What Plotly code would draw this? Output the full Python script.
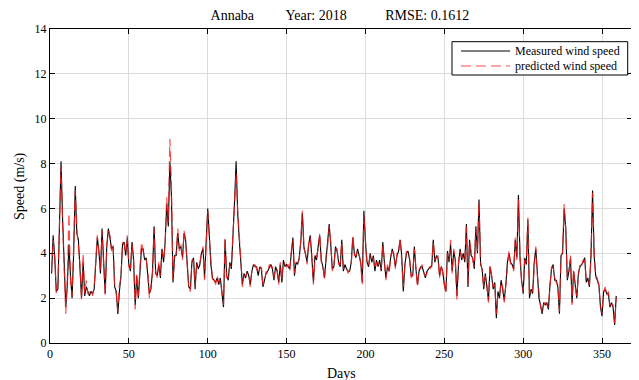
import plotly.graph_objects as go

days = list(range(1, 360))

measured = [
    3.1, 4.8, 3.8, 2.3, 2.4, 5.0, 8.1, 5.5, 3.0, 1.6,
    2.6, 4.4, 3.0, 2.0, 4.0, 7.0, 4.9, 4.6, 3.3, 2.0,
    3.6, 2.1, 2.5, 2.3, 2.1, 2.3, 2.2, 2.4, 3.8, 4.7,
    4.1, 3.1, 5.1, 3.5, 2.2, 4.3, 5.1, 4.7, 4.2, 4.3,
    2.5, 2.3, 1.3, 2.3, 3.0, 4.4, 4.5, 3.9, 4.7, 3.5,
    3.2, 4.5, 3.7, 1.7, 3.0, 2.0, 3.4, 4.2, 4.2, 3.7,
    3.8, 3.1, 2.2, 2.4, 3.2, 5.2, 3.1, 3.0, 3.5, 2.9,
    4.2, 3.6, 4.5, 6.2, 5.2, 8.1, 6.5, 2.7, 3.9, 3.9,
    4.9, 4.2, 4.3, 3.8, 4.9, 4.6, 3.4, 2.5, 2.4, 3.6,
    3.8, 2.4, 3.6, 3.3, 3.5, 4.0, 4.2, 2.9, 4.5, 6.0,
    4.8, 3.5, 2.9, 2.8, 2.7, 2.9, 2.6, 2.9, 2.2, 1.6,
    4.6, 3.0, 2.8, 3.6, 3.3, 4.6, 6.3, 8.1, 5.8, 4.6,
    3.6, 2.6, 3.1, 2.9, 3.2, 3.0, 2.6, 3.2, 3.5, 3.4,
    3.4, 3.0, 3.4, 3.3, 2.5, 2.8, 3.1, 3.2, 3.4, 3.5,
    3.3, 2.8, 3.4, 3.2, 2.7, 3.5, 2.7, 3.7, 3.4, 3.5,
    3.4, 3.3, 4.0, 4.7, 3.0, 3.6, 3.5, 3.8, 4.5, 5.8,
    4.3, 3.9, 3.6, 4.4, 4.8, 3.8, 2.7, 3.9, 3.7, 4.3,
    4.8, 3.7, 3.4, 2.9, 3.8, 4.4, 5.3, 4.4, 3.3, 3.4,
    4.3, 4.1, 3.6, 3.4, 4.6, 3.2, 3.5, 3.3, 3.2, 3.2,
    3.6, 4.7, 4.0, 3.8, 4.2, 3.9, 3.6, 2.7, 5.9, 4.5,
    3.6, 3.4, 4.0, 3.6, 3.9, 3.2, 3.7, 3.4, 3.7, 3.2,
    4.5, 3.6, 2.9, 3.4, 3.2, 3.8, 4.2, 3.9, 3.4, 3.9,
    4.1, 4.6, 3.9, 2.3, 3.5, 4.0, 4.1, 3.7, 3.0, 3.0,
    4.3, 3.3, 2.6, 3.2, 3.4, 3.4, 3.2, 2.9, 3.2, 3.3,
    3.4, 3.4, 4.6, 3.6, 3.9, 3.8, 3.0, 3.4, 3.2, 2.6,
    2.3, 4.1, 3.6, 4.4, 3.2, 4.1, 3.7, 2.1, 3.5, 4.2,
    3.7, 4.0, 3.6, 5.3, 2.5, 4.6, 3.9, 3.8, 3.3, 5.2,
    4.0, 6.4, 3.5, 3.3, 2.4, 3.1, 2.5, 1.9, 3.4, 3.0,
    2.4, 2.7, 1.1, 2.3, 2.0, 2.8, 2.4, 1.9, 2.6, 3.6,
    4.0, 3.6, 3.5, 3.3, 4.6, 3.8, 6.6, 3.8, 2.8, 2.2,
    3.8, 3.5, 5.5, 2.0, 2.4, 2.2, 3.6, 4.2, 3.1, 2.0,
    1.7, 1.3, 1.8, 1.7, 1.8, 1.5, 2.6, 3.3, 3.5, 2.8,
    2.8, 2.5, 1.3, 3.9, 4.0, 6.0, 5.1, 2.8, 3.2, 3.8,
    1.8, 3.2, 2.6, 2.0, 3.1, 3.4, 3.5, 3.6, 3.8, 2.7,
    2.9, 2.5, 3.9, 6.8, 3.9, 3.0, 2.8, 2.6, 1.6, 1.2,
    2.3, 2.4, 2.2, 2.2, 1.6, 1.8, 1.6, 0.8, 2.1,
]

predicted = [
    3.2, 4.6, 3.9, 2.2, 2.6, 5.2, 7.9, 5.3, 2.8, 1.3,
    2.9, 5.8, 2.8, 2.1, 4.3, 6.8, 5.1, 4.4, 3.5, 1.9,
    4.0, 2.2, 2.8, 2.2, 2.2, 2.4, 2.1, 2.5, 3.7, 4.8,
    4.0, 3.2, 5.0, 3.6, 2.1, 4.4, 5.0, 4.8, 4.1, 4.4,
    2.6, 2.2, 1.4, 2.6, 2.9, 4.5, 4.4, 4.0, 4.8, 3.4,
    3.3, 4.4, 3.8, 1.5, 3.1, 2.1, 3.3, 4.5, 4.1, 3.8,
    3.7, 3.2, 2.0, 2.6, 3.1, 5.1, 3.2, 2.9, 3.6, 3.0,
    4.1, 3.7, 4.4, 6.5, 5.4, 9.1, 7.0, 2.8, 3.8, 4.0,
    5.1, 4.1, 4.4, 3.7, 5.0, 4.5, 3.5, 2.4, 2.3, 3.7,
    3.7, 2.5, 3.5, 3.4, 3.6, 3.9, 4.3, 2.8, 4.3, 5.9,
    4.7, 3.6, 2.8, 2.9, 2.6, 3.0, 2.7, 2.8, 2.3, 1.7,
    4.7, 2.9, 2.9, 3.5, 3.4, 4.8, 6.0, 7.6, 5.9, 4.5,
    3.7, 2.5, 3.0, 3.0, 3.1, 3.1, 2.5, 3.3, 3.4, 3.5,
    3.3, 3.1, 3.3, 3.4, 2.6, 2.7, 3.2, 3.1, 3.5, 3.4,
    3.4, 2.9, 3.3, 3.3, 2.6, 3.6, 2.8, 3.6, 3.5, 3.4,
    3.5, 3.2, 4.1, 4.6, 3.1, 3.5, 3.6, 3.7, 4.6, 5.9,
    4.2, 4.0, 3.5, 4.5, 4.7, 3.9, 2.6, 3.8, 3.8, 4.2,
    4.9, 3.6, 3.5, 2.8, 3.9, 4.3, 5.2, 4.5, 3.2, 3.5,
    4.2, 4.2, 3.5, 3.5, 4.5, 3.3, 3.4, 3.4, 3.1, 3.3,
    3.5, 4.8, 3.9, 3.9, 4.1, 4.0, 3.5, 2.6, 5.7, 4.6,
    3.5, 3.5, 3.9, 3.7, 3.8, 3.3, 3.6, 3.5, 3.6, 3.3,
    4.4, 3.7, 2.8, 3.5, 3.1, 3.9, 4.1, 4.0, 3.3, 4.0,
    4.0, 4.7, 3.8, 2.5, 3.4, 4.1, 4.0, 3.8, 2.9, 3.1,
    4.2, 3.4, 2.5, 3.3, 3.3, 3.5, 3.1, 3.0, 3.1, 3.4,
    3.3, 3.5, 4.5, 3.7, 3.8, 3.9, 2.9, 3.5, 3.1, 2.7,
    2.2, 4.0, 3.7, 4.6, 3.1, 4.2, 3.6, 1.9, 3.6, 4.1,
    3.8, 3.9, 3.7, 5.2, 2.6, 4.5, 4.0, 3.7, 3.4, 5.1,
    4.1, 6.3, 3.6, 3.2, 2.5, 3.0, 2.6, 1.8, 3.5, 2.9,
    2.5, 2.6, 1.3, 2.2, 2.1, 2.7, 2.5, 1.8, 2.7, 3.5,
    4.1, 3.5, 3.6, 3.2, 4.7, 3.7, 6.4, 3.9, 2.7, 2.3,
    3.7, 3.6, 5.6, 2.1, 2.3, 2.3, 3.5, 4.3, 3.0, 2.1,
    1.6, 1.4, 1.7, 1.8, 1.7, 1.6, 2.5, 3.4, 3.4, 2.9,
    2.7, 2.6, 1.4, 3.8, 4.1, 6.2, 5.0, 2.9, 3.1, 3.9,
    1.7, 3.3, 2.5, 2.1, 3.0, 3.5, 3.4, 3.7, 3.7, 2.8,
    2.8, 2.6, 3.8, 6.7, 4.0, 2.9, 2.9, 2.5, 1.7, 1.3,
    2.2, 2.5, 2.1, 2.3, 1.7, 1.7, 1.7, 0.9, 2.0,
]

series_names = ["Measured wind speed", "predicted wind speed"]
x_ticks = [0, 50, 100, 150, 200, 250, 300, 350]
y_ticks = [0, 2, 4, 6, 8, 10, 12, 14]

NB = "\u00a0"
title_text = "Annaba" + NB * 9 + "Year: 2018" + NB * 11 + "RMSE: 0.1612"

black_line = dict(color="black", width=1.1)
red_line = dict(color="rgba(255,30,30,0.8)", width=1.2, dash="10px,5px")

fig = go.Figure()
fig.add_trace(go.Scatter(x=days, y=measured, mode="lines",
                         name=series_names[0], line=black_line,
                         showlegend=False))
fig.add_trace(go.Scatter(x=days, y=predicted, mode="lines",
                         name=series_names[1], line=red_line,
                         showlegend=False))

axis_common = dict(
    showline=True, linecolor="black", linewidth=1, mirror="ticks",
    ticks="inside", ticklen=5, tickcolor="black",
    showgrid=True, gridcolor="#dcdcdc", gridwidth=1, zeroline=False,
    tickfont=dict(size=12, color="black"), automargin=False,
)

# Legend box drawn in paper coordinates (MATLAB style)
box = dict(x0=0.6907, x1=0.9926, y0=0.8535, y1=0.9596)
rows_y = [0.930, 0.8822]
line_x = [0.7062, 0.7904]
text_x = 0.7955

shapes = [dict(type="rect", xref="paper", yref="paper",
               x0=box["x0"], x1=box["x1"], y0=box["y0"], y1=box["y1"],
               line=dict(color="black", width=1), fillcolor="white", layer="above")]
for yy, ln in zip(rows_y, [black_line, red_line]):
    shapes.append(dict(type="line", xref="paper", yref="paper",
                       x0=line_x[0], x1=line_x[1], y0=yy, y1=yy,
                       line=ln, layer="above"))

annotations = [
    dict(text="Days", xref="paper", yref="paper", x=0.5, y=0,
         yshift=-30, showarrow=False, font=dict(size=14),
         xanchor="center", yanchor="middle"),
    dict(text="Speed (m/s)", xref="paper", yref="paper", x=0, y=0.5,
         xshift=-30, showarrow=False, font=dict(size=14), textangle=-90,
         xanchor="center", yanchor="middle"),
]
for yy, name in zip(rows_y, series_names):
    annotations.append(dict(text=name, xref="paper", yref="paper",
                            x=text_x, y=yy, showarrow=False,
                            xanchor="left", yanchor="middle",
                            font=dict(size=12)))

# The page body has an 8px margin, so the figure is sized 8px smaller.
fig.update_layout(
    width=631, height=372,
    margin=dict(l=42, r=7, t=21, b=37, autoexpand=False),
    paper_bgcolor="white", plot_bgcolor="white",
    font=dict(family="Liberation Serif", size=12, color="black"),
    title=dict(text=title_text, x=0.526, xanchor="center",
               y=1 - 7 / 372, yref="container", yanchor="middle",
               font=dict(size=14, color="black")),
    showlegend=False,
    xaxis=dict(range=[0, 369], tickvals=x_ticks, **axis_common),
    yaxis=dict(range=[0, 14], tickvals=y_ticks, **axis_common),
    shapes=shapes,
    annotations=annotations,
)

fig.write_html("out.html")
